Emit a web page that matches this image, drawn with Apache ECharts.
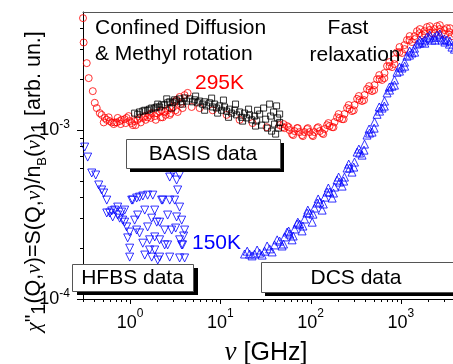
<!DOCTYPE html>
<html><head><meta charset="utf-8">
<script src="https://cdn.jsdelivr.net/npm/echarts@6/dist/echarts.min.js"></script>
<style>html,body{margin:0;padding:0;background:#fff}#c{width:453px;height:364px}</style>
</head><body><div id="c"></div>
<script>
// Axis ranges (GHz / arb. un.)
const xRange = [0.3, 5000];
const yRange = [1e-4, 5e-3];
const xTickLabels = ['10^0', '10^1', '10^2', '10^3'];
const yTickLabels = ['10^-4', '10^-3'];

// 295 K, combined spectrum (red circles)
const red295 = [
 [0.3001,4.6e-3],[0.305,3.3e-3],[0.33,2.49e-3],[0.347,2.03e-3],[0.385,1.70e-3],[0.405,1.45e-3],[0.426,1.35e-3],
 [0.46,1.26e-3],[0.483,1.23e-3],[0.522,1.18e-3],[0.55,1.15e-3],[0.593,1.13e-3],[0.624,1.11e-3],[0.673,1.11e-3],
 [0.709,1.11e-3],[0.765,1.13e-3],[0.805,1.15e-3],[0.869,1.16e-3],[0.914,1.18e-3],[0.987,1.13e-3],[1.04,1.10e-3],
 [1.07,1.07e-3],[1.12,1.13e-3],[1.21,1.15e-3],[1.27,1.18e-3],[1.38,1.18e-3],[1.45,1.21e-3],[1.56,1.19e-3],
 [1.64,1.23e-3],[1.73,1.26e-3],[1.87,1.21e-3],[1.97,1.26e-3],[2.12,1.28e-3],[2.23,1.31e-3],[2.29,1.19e-3],
 [2.41,1.28e-3],[2.60,1.31e-3],[2.74,1.35e-3],[2.74,1.23e-3],[2.96,1.37e-3],[3.11,1.47e-3],[3.27,1.51e-3],
 [3.36,1.28e-3],[3.53,1.57e-3],[3.81,1.35e-3],[4.01,1.61e-3],[4.33,1.66e-3],[4.80,1.37e-3],
 [0.509,1.11e-3],[0.578,1.19e-3],[0.657,1.085e-3],[0.727,1.18e-3],[0.785,1.085e-3],[0.892,1.10e-3],[0.962,1.21e-3],
 [1.15,1.07e-3],[1.31,1.11e-3],[1.485,1.15e-3],[1.69,1.18e-3],[1.92,1.15e-3],[2.18,1.19e-3],[2.47,1.23e-3],
 [2.81,1.26e-3],[3.19,1.31e-3],[3.63,1.425e-3],
 [5.88,1.35e-3],[8.2,1.31e-3],[11.7,1.23e-3],[16.3,1.15e-3],[22.7,1.10e-3],[32.5,1.04e-3],[45.3,1.07e-3],[48.9,1.04e-3],
 [51.4,1.027e-3],[58.4,1.00e-3],[66.3,0.986e-3],[75.4,0.973e-3],[85.5,0.973e-3],[97.2,0.973e-3],[110,0.973e-3],
 [126,0.986e-3],[143,1.014e-3],[162,1.056e-3],[184,1.115e-3],[209,1.178e-3],[237,1.244e-3],[270,1.331e-3],
 [306,1.406e-3],[348,1.505e-3],[395,1.611e-3],[449,1.725e-3],[510,1.846e-3],[580,2.004e-3],[658,2.175e-3],
 [748,2.391e-3],[849,2.631e-3],[964,2.894e-3],[1096,3.184e-3],[1245,3.41e-3],[1415,3.60e-3],[1607,3.75e-3],
 [1825,3.85e-3],[2074,3.91e-3],[2356,3.96e-3],[2673,3.96e-3],[3040,3.91e-3],[3451,3.80e-3],[3918,3.70e-3],
 [54.8,1.056e-3],[62.2,0.947e-3],[70.7,1.027e-3],[80.3,0.934e-3],[91.2,1.014e-3],[104,0.934e-3],[118,1.027e-3],
 [134,0.960e-3],[152,1.07e-3],[173,1.04e-3],[196,1.19e-3],[223,1.16e-3],[253,1.35e-3],[287,1.295e-3],[327,1.53e-3],
 [371,1.485e-3],[421,1.75e-3],[479,1.70e-3],[544,2.00e-3],[618,1.98e-3],[702,2.39e-3],[797,2.36e-3],[905,2.89e-3],
 [1028,2.86e-3],[1168,3.41e-3],[1327,3.32e-3],[1508,3.85e-3],[1713,3.65e-3],[1945,4.07e-3],[2210,3.75e-3],
 [2510,4.12e-3],[2851,3.75e-3],[3238,4.01e-3],[3678,3.60e-3],
 [50,1.085e-3],[57,1.04e-3],[64,0.934e-3],[72,1.027e-3],[82,0.921e-3],[93,1.027e-3],[106,0.921e-3],[121,1.04e-3],
 [138,0.947e-3],[157,1.10e-3],[179,1.04e-3],[204,1.244e-3],[232,1.16e-3],[264,1.406e-3],[300,1.31e-3],[342,1.59e-3],
 [390,1.505e-3],[444,1.82e-3],[505,1.725e-3],[575,2.115e-3],[655,2.03e-3],[745,2.526e-3],[848,2.457e-3],[965,3.10e-3],
 [1100,3.015e-3],[1250,3.60e-3],[1420,3.456e-3],[1620,3.96e-3],[1840,3.70e-3],[2090,4.12e-3],[2380,3.75e-3],
 [2700,4.18e-3],[3070,3.70e-3],[3490,4.01e-3]
];

// 295 K, BASIS (black squares)
const basis295 = [
 [1.12,1.26e-3],[1.21,1.24e-3],[1.27,1.28e-3],[1.38,1.295e-3],[1.45,1.31e-3],[1.56,1.31e-3],[1.64,1.33e-3],
 [1.73,1.35e-3],[1.87,1.35e-3],[1.97,1.37e-3],[2.02,1.425e-3],[2.12,1.37e-3],[2.23,1.41e-3],[2.41,1.41e-3],
 [2.54,1.53e-3],[2.60,1.45e-3],[2.74,1.47e-3],[2.88,1.35e-3],[2.96,1.45e-3],[3.11,1.51e-3],[3.27,1.485e-3],
 [3.53,1.53e-3],[3.72,1.47e-3],[3.81,1.425e-3],[4.01,1.55e-3],[4.22,1.485e-3],[4.56,1.53e-3],[4.92,1.47e-3],
 [5.18,1.51e-3],[5.31,1.589e-3],[5.59,1.45e-3],[5.88,1.485e-3],[6.35,1.425e-3],[6.68,1.47e-3],[6.68,1.31e-3],
 [7.03,1.39e-3],[7.59,1.45e-3],[7.99,1.546e-3],[8.2,1.37e-3],[8.62,1.425e-3],[9.07,1.35e-3],[9.31,1.26e-3],
 [9.79,1.39e-3],[10.3,1.31e-3],[10.8,1.505e-3],[11.1,1.37e-3],[11.7,1.295e-3],[12.3,1.19e-3],[12.6,1.33e-3],
 [13.3,1.26e-3],[14.4,1.31e-3],[14.7,1.425e-3],[15.1,1.23e-3],[16.3,1.28e-3],[17.2,1.19e-3],[17.6,1.13e-3],
 [18.5,1.26e-3],[19.5,1.18e-3],[20.5,1.33e-3],[21.0,1.23e-3],[22.2,1.15e-3],[23.9,1.21e-3],[24.5,1.056e-3],
 [25.2,1.13e-3],[25.8,1.31e-3],[27.2,1.244e-3],[28.6,1.07e-3],[30.1,1.35e-3],[31.7,1.16e-3],[33.3,1.027e-3],
 [35.1,1.425e-3],[36.0,1.21e-3],[36.9,0.986e-3],[38.8,1.28e-3],[39.8,1.085e-3],[40.9,0.947e-3],[41.9,1.39e-3],
 [43.0,1.18e-3],[44.1,1.027e-3],[45.3,1.244e-3],[45.3,1.11e-3]
];

// 150 K, HFBS (blue down triangles)
const hfbs150 = [
 [0.313,0.793e-3],[0.338,0.692e-3],[0.375,0.557e-3],[0.415,0.542e-3],[0.448,0.473e-3],[0.483,0.442e-3],
 [0.509,0.424e-3],[0.55,0.385e-3],[0.55,0.323e-3],[0.593,0.323e-3],[0.624,0.332e-3],[0.673,0.336e-3],
 [0.64,0.306e-3],[0.727,0.314e-3],[0.765,0.301e-3],[0.805,0.327e-3],[0.826,0.293e-3],[0.869,0.285e-3],
 [0.914,0.267e-3],[0.987,0.249e-3],[0.938,0.230e-3],[0.987,0.200e-3],[0.987,0.177e-3],[1.04,0.385e-3],
 [1.07,0.385e-3],[1.12,0.293e-3],[1.18,0.396e-3],[1.21,0.314e-3],[1.27,0.401e-3],[1.27,0.246e-3],
 [1.38,0.407e-3],[1.38,0.214e-3],[1.45,0.182e-3],[1.56,0.412e-3],[1.56,0.267e-3],[1.64,0.224e-3],
 [1.73,0.301e-3],[1.73,0.177e-3],[1.78,0.412e-3],[1.87,0.336e-3],[1.87,0.233e-3],[1.87,0.195e-3],
 [1.97,0.285e-3],[2.02,0.170e-3],[2.12,0.177e-3],[2.12,0.224e-3],[2.23,0.385e-3],[2.29,0.385e-3],
 [2.41,0.256e-3],[2.60,0.209e-3],[2.60,0.314e-3],[2.74,0.527e-3],[2.74,0.177e-3],[2.88,0.256e-3],
 [2.96,0.557e-3],[3.11,0.385e-3],[3.27,0.506e-3],[3.27,0.306e-3],[3.36,0.442e-3],[3.53,0.542e-3],
 [3.53,0.350e-3],[3.53,0.224e-3],[3.53,0.175e-3],[3.72,0.293e-3],[3.72,0.209e-3],[3.81,0.209e-3],
 [4.01,0.256e-3],[4.01,0.175e-3],
 [0.727,0.350e-3],[0.869,0.336e-3],[1.45,0.336e-3],[2.12,0.285e-3],[2.74,0.385e-3],[3.19,0.263e-3],
 [3.91,0.236e-3],[2.41,0.209e-3],[1.18,0.256e-3],[1.64,0.195e-3]
];

// 150 K, DCS (blue up triangles)
const dcs150 = [
 [18.5,0.1846e-3],[21.0,0.1846e-3],[23.9,0.1846e-3],[27.2,0.187e-3],[30.9,0.192e-3],[35.1,0.198e-3],
 [39.8,0.209e-3],[45.3,0.220e-3],[51.4,0.233e-3],[58.4,0.2424e-3],[66.3,0.2596e-3],[75.4,0.2779e-3],
 [85.5,0.2975e-3],[97.2,0.3228e-3],[110,0.3455e-3],[126,0.375e-3],[143,0.401e-3],[162,0.4297e-3],
 [184,0.460e-3],[209,0.4923e-3],[237,0.527e-3],[270,0.5957e-3],[306,0.6466e-3],[348,0.7311e-3],
 [395,0.8264e-3],[449,0.960e-3],[510,1.115e-3],[580,1.295e-3],[658,1.485e-3],[748,1.725e-3],[849,1.98e-3],
 [964,2.234e-3],[1096,2.526e-3],[1245,2.779e-3],[1415,3.056e-3],[1607,3.272e-3],[1825,3.41e-3],
 [2074,3.50e-3],[2356,3.55e-3],[2673,3.55e-3],[3040,3.456e-3],[3451,3.228e-3],[3918,3.015e-3],
 [19.8,0.192e-3],[22.4,0.180e-3],[25.5,0.195e-3],[29.0,0.182e-3],[32.9,0.206e-3],[37.4,0.190e-3],
 [42.5,0.224e-3],[48.2,0.206e-3],[54.8,0.249e-3],[62.2,0.224e-3],[70.7,0.278e-3],[80.3,0.253e-3],
 [91.2,0.323e-3],[104,0.285e-3],[118,0.370e-3],[134,0.336e-3],[152,0.430e-3],[173,0.396e-3],
 [196,0.506e-3],[223,0.466e-3],[253,0.596e-3],[287,0.564e-3],[327,0.741e-3],[371,0.711e-3],
 [421,0.934e-3],[479,0.973e-3],[544,1.24e-3],[618,1.35e-3],[702,1.66e-3],[797,1.82e-3],[905,2.20e-3],
 [1028,2.33e-3],[1168,2.74e-3],[1327,2.86e-3],[1508,3.23e-3],[1713,3.32e-3],[1945,3.55e-3],
 [2210,3.41e-3],[2510,3.65e-3],[2851,3.41e-3],[3238,3.41e-3],[3678,3.10e-3],
 [50,0.2115e-3],[57,0.2526e-3],[64,0.236e-3],[72,0.285e-3],[82,0.2704e-3],[93,0.336e-3],[106,0.318e-3],
 [121,0.391e-3],[138,0.365e-3],[157,0.454e-3],[179,0.424e-3],[204,0.527e-3],[232,0.499e-3],[264,0.629e-3],
 [300,0.604e-3],[342,0.772e-3],[390,0.761e-3],[444,1.014e-3],[505,1.027e-3],[575,1.37e-3],[655,1.387e-3],
 [745,1.797e-3],[848,1.846e-3],[965,2.36e-3],[1100,2.39e-3],[1250,2.935e-3],[1420,2.894e-3],[1620,3.41e-3],
 [1840,3.27e-3],[2090,3.65e-3],[2380,3.41e-3],[2700,3.70e-3],[3070,3.32e-3],[3490,3.363e-3]
];

// tick positions (every 1..9 x 10^n inside the range)
function logTicks(range) {
  const out = [];
  for (let d = Math.floor(Math.log10(range[0])); d <= Math.ceil(Math.log10(range[1])); d++) {
    for (let k = 1; k <= 9; k++) {
      const v = +(k * Math.pow(10, d)).toPrecision(6);
      if (v >= range[0] * 0.9999 && v <= range[1] * 1.0001) out.push([v, k === 1 ? 1 : 0]);
    }
  }
  return out;
}
const xTicks = logTicks(xRange).map(t => [t[0], yRange[0], t[1]]);
const yTicks = logTicks(yRange).filter(t => t[0] < yRange[1] * 0.999).map(t => [xRange[0], t[0], t[1]]);

function labelFor(list, v) {
  const e = Math.round(Math.log10(v));
  if (Math.abs(Math.log10(v) - e) > 1e-6) return '';
  const s = '10^' + e;
  if (list.indexOf(s) < 0) return '';
  return '{b|10}{s|' + (e < 0 ? '-' + (-e) : e) + '}';
}

const SANS = 'Liberation Sans';
const SERIF = 'Liberation Serif';
const chart = echarts.init(document.getElementById('c'), null, {renderer: 'canvas'});

const boxText = (txt, cx, cy, color, size) => ({
  type: 'text', z: 110, x: cx, y: cy,
  style: {text: txt, fill: color || '#000', font: (size || 21) + 'px "' + SANS + '"',
          align: 'center', verticalAlign: 'middle', textAlign: 'center', textVerticalAlign: 'middle'}
});
const leftText = (txt, lx, cy, color) => ({
  type: 'text', z: 110, x: lx, y: cy,
  style: {text: txt, fill: color || '#000', font: '21px "' + SANS + '"',
          align: 'left', verticalAlign: 'middle', textAlign: 'left', textVerticalAlign: 'middle'}
});
const box = (x, y, w, h, sx, sy) => ([
  {type: 'rect', z: 100, shape: {x: x + sx, y: y + sy, width: w, height: h}, style: {fill: '#000'}},
  {type: 'rect', z: 101, shape: {x: x + 0.5, y: y + 0.5, width: w, height: h}, style: {fill: '#fff', stroke: '#555', lineWidth: 1}}
]);

const option = {
  animation: false,
  backgroundColor: '#fff',
  grid: {left: 83, top: 12, right: -11, bottom: 65, containLabel: false, outerBoundsMode: 'none'},
  xAxis: [{
    type: 'log', min: xRange[0], max: xRange[1],
    axisLine: {show: true, onZero: false, lineStyle: {color: '#000', width: 1}},
    axisTick: {show: false}, splitLine: {show: false}, minorTick: {show: false},
    axisLabel: {
      margin: 9, formatter: v => labelFor(xTickLabels, v),
      rich: {
        b: {fontSize: 18, fontFamily: SANS, color: '#000', lineHeight: 30},
        s: {fontSize: 12, fontFamily: SANS, color: '#000', lineHeight: 6, verticalAlign: 'top'}
      }
    }
  }, {
    type: 'log', min: xRange[0], max: xRange[1], position: 'top',
    axisLine: {show: true, onZero: false, lineStyle: {color: '#555', width: 1}},
    axisTick: {show: false}, axisLabel: {show: false}, splitLine: {show: false}
  }],
  yAxis: {
    type: 'log', min: yRange[0], max: yRange[1],
    axisLine: {show: true, onZero: false, lineStyle: {color: '#000', width: 1}},
    axisTick: {show: false}, splitLine: {show: false},
    axisLabel: {
      margin: 13, formatter: v => labelFor(yTickLabels, v),
      rich: {
        b: {fontSize: 18, fontFamily: SANS, color: '#000', lineHeight: 22},
        s: {fontSize: 12, fontFamily: SANS, color: '#000', lineHeight: 12, verticalAlign: 'top'}
      }
    }
  },
  series: [
    {type: 'scatter', name: '295K', data: red295, symbol: 'circle', symbolSize: 7, silent: true,
     itemStyle: {color: 'rgba(0,0,0,0)', borderColor: '#ff0000', borderWidth: 1}},
    {type: 'scatter', name: 'BASIS', data: basis295, symbol: 'rect', symbolSize: 6, silent: true,
     itemStyle: {color: 'rgba(0,0,0,0)', borderColor: '#000', borderWidth: 1}},
    {type: 'scatter', name: 'HFBS', data: hfbs150, symbol: 'triangle', symbolRotate: 180, symbolSize: 8, silent: true,
     itemStyle: {color: 'rgba(0,0,0,0)', borderColor: '#0000ff', borderWidth: 1}},
    {type: 'scatter', name: 'DCS', data: dcs150, symbol: 'triangle', symbolSize: 8, silent: true,
     itemStyle: {color: 'rgba(0,0,0,0)', borderColor: '#0000ff', borderWidth: 1}},
    {type: 'custom', data: xTicks, clip: false, silent: true, encode: {x: 0, y: 1}, z: 5,
     renderItem: (params, api) => {
       const p = api.coord([api.value(0), api.value(1)]);
       const len = api.value(2) ? 5 : 3;
       const x = Math.round(p[0]) + 0.5;
       return {type: 'line', shape: {x1: x, y1: p[1], x2: x, y2: p[1] + len}, style: {stroke: '#000', lineWidth: 1}};
     }},
    {type: 'custom', data: yTicks, clip: false, silent: true, encode: {x: 0, y: 1}, z: 5,
     renderItem: (params, api) => {
       const p = api.coord([api.value(0), api.value(1)]);
       const len = api.value(2) ? 6 : 3;
       const y = Math.round(p[1]) + 0.5;
       return {type: 'line', shape: {x1: p[0], y1: y, x2: p[0] - len, y2: y}, style: {stroke: '#000', lineWidth: 1}};
     }}
  ],
  graphic: [
    ...box(126, 139, 154, 29, 4, 4),
    ...box(72, 264, 121, 27, 5, 4),
    ...box(261, 262, 220, 30, 4, 4),
    boxText('BASIS data', 203, 154.5),
    boxText('HFBS data', 132.5, 278),
    boxText('DCS data', 356, 278),
    leftText('Confined Diffusion', 95, 28.5),
    leftText('& Methyl rotation', 95, 54),
    boxText('Fast', 348, 28.5),
    boxText('relaxation', 355, 55.5),
    leftText('295K', 195, 83, '#ff0000'),
    leftText('150K', 192, 243, '#0000ff'),
    {
      type: 'text', z: 110, x: 34, y: 181.5, rotation: Math.PI / 2,
      style: {
        text: '{g|χ}{n|"}{one|1}{n|(Q,}{g|ν}{n|)=S(Q,}{g|ν}{n|)/n}{sub|B}{n|(}{g|ν}{n|)}{one|1}{n| [arb. un.]}',
        align: 'center', verticalAlign: 'middle', textAlign: 'center', textVerticalAlign: 'middle',
        rich: {
          n: {fontSize: 21.5, fontFamily: SANS, fill: '#000', lineHeight: 30},
          g: {fontSize: 21.5, fontFamily: SERIF, fontStyle: 'italic', fill: '#000', lineHeight: 30},
          sub: {fontSize: 13, fontFamily: SANS, fill: '#000', lineHeight: 13, verticalAlign: 'bottom'},
          one: {fontSize: 20, fontFamily: SANS, fill: '#000', lineHeight: 4, verticalAlign: 'bottom'}
        }
      }
    },
    {
      type: 'text', z: 110, x: 266, y: 353,
      style: {
        text: '{g|ν}{n| [GHz]}',
        align: 'center', verticalAlign: 'middle', textAlign: 'center', textVerticalAlign: 'middle',
        rich: {
          g: {fontSize: 27, fontFamily: SERIF, fontStyle: 'italic', fill: '#000', lineHeight: 28},
          n: {fontSize: 25, fontFamily: SANS, fill: '#000', lineHeight: 28}
        }
      }
    }
  ]
};
chart.setOption(option);
</script>
</body></html>
